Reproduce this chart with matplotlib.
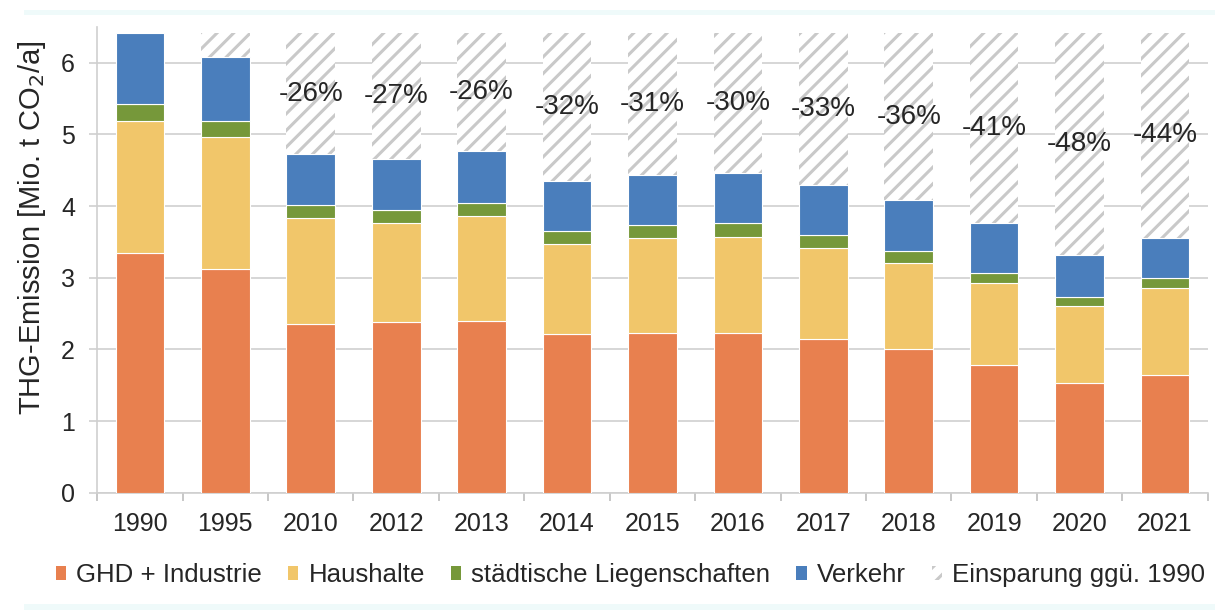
import matplotlib
matplotlib.use("Agg")
import matplotlib.pyplot as plt
from matplotlib.patches import Patch, Rectangle
import numpy as np

years = ["1990", "1995", "2010", "2012", "2013", "2014", "2015", "2016",
         "2017", "2018", "2019", "2020", "2021"]
ghd_industrie = [3.34, 3.12, 2.36, 2.38, 2.40, 2.21, 2.23, 2.23, 2.14, 2.01, 1.79, 1.53, 1.64]
haushalte = [1.85, 1.85, 1.47, 1.38, 1.46, 1.26, 1.33, 1.34, 1.27, 1.20, 1.14, 1.07, 1.22]
staedtisch = [0.24, 0.21, 0.19, 0.19, 0.19, 0.18, 0.18, 0.19, 0.18, 0.17, 0.14, 0.13, 0.14]
verkehr = [0.98, 0.90, 0.70, 0.70, 0.72, 0.70, 0.70, 0.70, 0.71, 0.70, 0.69, 0.59, 0.56]
savings_labels = ["", "", "-26%", "-27%", "-26%", "-32%", "-31%", "-30%",
                  "-33%", "-36%", "-41%", "-48%", "-44%"]

series_names = ["GHD + Industrie", "Haushalte", "städtische Liegenschaften", "Verkehr"]
colors = ["#E8804F", "#F1C66A", "#76983A", "#4A7EBC"]
hatch_color = "#c9c9c9"

plt.rcParams["font.family"] = ["Liberation Sans", "DejaVu Sans"]
plt.rcParams["hatch.linewidth"] = 2.2
text_color = "#262626"

fig = plt.figure(figsize=(12.15, 6.10), dpi=100)
ax = fig.add_axes([0.080, 0.192, 0.914, 0.764])

x = np.arange(len(years))
width = 0.57
series = [ghd_industrie, haushalte, staedtisch, verkehr]
bottom = np.zeros(len(years))
for vals, name, col in zip(series, series_names, colors):
    ax.bar(x, vals, width, bottom=bottom, color=col, edgecolor="white",
           linewidth=0.8, zorder=3, label=name)
    bottom = bottom + np.array(vals)

totals = bottom
ref_total = totals[0]
savings = ref_total - totals
ax.bar(x[1:], savings[1:], width, bottom=totals[1:], color="white",
       edgecolor=hatch_color, hatch="//", linewidth=0, zorder=2)

for xi, t, lab in zip(x, totals, savings_labels):
    if lab:
        ax.text(xi, (t + ref_total) / 2, lab, ha="center", va="center",
                fontsize=20, color=text_color, zorder=5)

ax.set_ylim(0, 6.5)
ax.set_xlim(-0.5, len(years) - 0.5)
ax.set_yticks(range(0, 7))
ax.set_xticks(x)
ax.set_xticklabels(years)
ax.set_xticks(np.arange(-0.5, len(years), 1.0), minor=True)
ax.tick_params(axis="x", which="major", length=0, pad=14, labelsize=18, colors=text_color)
ax.tick_params(axis="x", which="minor", length=6, width=1.2, color="#bdbdbd")
ax.tick_params(axis="y", length=6, width=1.2, color="#d0d0d0", pad=10,
               labelsize=18, labelcolor=text_color)
ax.grid(axis="y", color="#d3d3d3", linewidth=1.3, zorder=0)
for s in ["top", "right"]:
    ax.spines[s].set_visible(False)
ax.spines["left"].set_color("#cfcfcf")
ax.spines["bottom"].set_color("#cfcfcf")
ax.spines["left"].set_linewidth(1.2)
ax.spines["bottom"].set_linewidth(1.2)
ax.set_ylabel("THG-Emission [Mio. t CO$_2$/a]", fontsize=21, color=text_color)
ax.yaxis.set_label_coords(-0.044, 0.57)

handles = [Patch(facecolor=c, edgecolor="none") for c in colors]
handles.append(Patch(facecolor="white", edgecolor=hatch_color, hatch="//", linewidth=0))
labels = series_names + ["Einsparung ggü. 1990"]
fig.legend(handles, labels, loc="center", bbox_to_anchor=(0.519, 0.057), ncol=5,
           frameon=False, fontsize=18.6, handlelength=0.4, handleheight=0.4,
           handletextpad=0.4, columnspacing=1.0, labelcolor=text_color)

fig.patches.append(Rectangle((0.02, 0.975), 0.98, 0.008, transform=fig.transFigure,
                             facecolor="#effafa", edgecolor="none"))
fig.patches.append(Rectangle((0.02, 0.0), 0.98, 0.01, transform=fig.transFigure,
                             facecolor="#effafa", edgecolor="none"))

fig.savefig("out.png", dpi=100)
